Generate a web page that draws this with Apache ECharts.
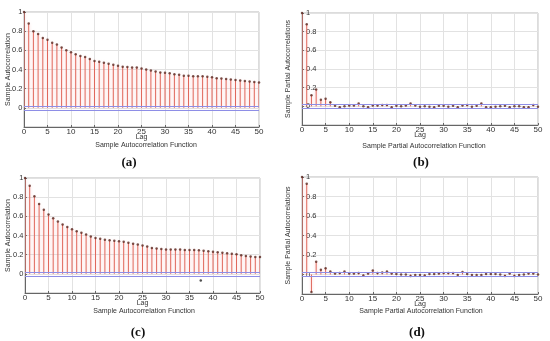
<!DOCTYPE html>
<html><head><meta charset="utf-8">
<script src="https://cdn.jsdelivr.net/npm/echarts@6/dist/echarts.min.js"></script>
<style>html,body{margin:0;padding:0;background:#fff}#c{width:550px;height:341px}</style>
</head><body><div id="c"></div>
<script>
const lags = [0,1,2,3,4,5,6,7,8,9,10,11,12,13,14,15,16,17,18,19,20,21,22,23,24,25,26,27,28,29,30,31,32,33,34,35,36,37,38,39,40,41,42,43,44,45,46,47,48,49,50];
const acfA = [1,0.88,0.80,0.77,0.73,0.71,0.68,0.66,0.63,0.60,0.58,0.56,0.54,0.53,0.51,0.49,0.48,0.47,0.46,0.45,0.44,0.43,0.425,0.42,0.42,0.41,0.40,0.39,0.38,0.37,0.365,0.36,0.35,0.345,0.335,0.335,0.33,0.33,0.33,0.325,0.32,0.31,0.305,0.30,0.295,0.29,0.285,0.28,0.275,0.27,0.265];
const pacfB = [1,0.88,0.12,0.18,0.07,0.08,0.045,0.005,-0.01,0.0,0.01,0.01,0.03,0.0,-0.01,0.01,0.01,0.015,0.015,-0.01,0.005,0.0,0.01,0.03,0.01,-0.005,0.0,-0.005,-0.01,0.005,0.005,-0.005,0.005,-0.01,0.01,0.015,-0.005,0.005,0.03,-0.01,-0.01,-0.005,0.0,0.005,-0.01,0.0,0.0,-0.01,-0.01,0.015,-0.005];
const acfC = [1,0.92,0.81,0.73,0.67,0.62,0.58,0.545,0.515,0.49,0.465,0.445,0.43,0.41,0.39,0.375,0.365,0.355,0.35,0.345,0.34,0.335,0.325,0.315,0.305,0.295,0.285,0.27,0.265,0.26,0.255,0.255,0.255,0.255,0.25,0.25,0.25,0.245,0.24,0.235,0.23,0.225,0.22,0.215,0.21,0.205,0.195,0.185,0.18,0.175,0.175];
const strayC = [[37.4,-0.07]];
const pacfD = [1,0.93,-0.18,0.13,0.05,0.065,0.03,0.01,0.015,0.03,0.01,0.01,0.015,-0.01,0.01,0.04,0.015,0.02,0.03,0.01,0.005,0.0,0.0,-0.015,-0.005,-0.005,-0.01,0.005,0.005,0.01,0.015,0.015,0.015,-0.005,0.025,0.005,-0.005,-0.005,-0.005,0.005,0.005,0.005,0.0,-0.015,0.01,-0.015,-0.005,0.0,0.01,0.01,0.0];
const bounds = [0.02,-0.02];
const xTicks = ['0','5','10','15','20','25','30','35','40','45','50'];
const yTickLabels = ['','0','0.2','0.4','0.6','0.8','1'];

const yNames = ['Sample Autocorrelation','Sample Partial Autocorrelations','Sample Autocorrelation','Sample Partial Autocorrelations'];
const titles = ['Sample Autocorrelation Function','Sample Partial Autocorrelation Function','Sample Autocorrelation Function','Sample Partial Autocorrelation Function'];
const panelTags = ['(a)','(b)','(c)','(d)'];
const series = [acfA, pacfB, acfC, pacfD];

const grids = [
  {left:24, top:12, width:235, height:115},
  {left:302, top:13, width:236, height:112},
  {left:25, top:178, width:235, height:115},
  {left:302, top:177, width:236, height:117}
];
const titlePos = [[146,145],[424,146],[144,311],[421,311]];
const tagPos = [[129,163],[421,163],[138,333],[417,333]];
const yNameGap = [12.5,10,13,10];
const yLabelInside = [false,true,false,true];

const font = 'Liberation Sans, Arial, sans-serif';
const chart = echarts.init(document.getElementById('c'), null, {renderer:'canvas'});

function stem(params, api){
  const x = api.value(0), y = api.value(1);
  const p0 = api.coord([x,0]), p1 = api.coord([x,y]);
  return {type:'line', shape:{x1:p0[0],y1:p0[1],x2:p1[0],y2:p1[1]},
    style:{stroke:'#e0685c', lineWidth:1, shadowColor:'rgba(250,160,160,0.6)', shadowBlur:3}};
}

const option = {
  animation:false,
  backgroundColor:'#fff',
  grid: grids.map(g => Object.assign({show:true, borderColor:'#b8b8b8', borderWidth:1, containLabel:false}, g)),
  xAxis: grids.map((g,i) => ({
    type:'value', gridIndex:i, min:0, max:50, interval:5,
    name:'Lag', nameLocation:'middle', nameGap:6.5, nameMoveOverlap:false,
    nameTextStyle:{fontSize:7, color:'#333', fontFamily:font},
    axisLine:{show:true, onZero:false, lineStyle:{color:'#666', width:1}},
    axisTick:{show:true, inside:true, length:2, lineStyle:{color:'#666'}},
    axisLabel:{fontSize:8, color:'#333', fontFamily:font, margin:1,
      formatter:v => xTicks[xTicks.indexOf(String(v))] || String(v)},
    splitLine:{show:true, lineStyle:{color:'#e2e2e2', width:1}}
  })),
  yAxis: grids.map((g,i) => ({
    type:'value', gridIndex:i, min:-0.2, max:1, interval:0.2,
    name:yNames[i], nameLocation:'middle', nameGap:yNameGap[i], nameMoveOverlap:false,
    nameTextStyle:{fontSize:7, color:'#333', fontFamily:font},
    axisLine:{show:true, onZero:false, lineStyle:{color:'#666', width:1}},
    axisTick:{show:true, inside:true, length:2, lineStyle:{color:'#666'}},
    axisLabel:{fontSize:7.5, color:'#333', fontFamily:font, margin: yLabelInside[i] ? 4 : 1.5, inside:yLabelInside[i],
      formatter:v => yTickLabels[Math.round((v+0.2)/0.2)]},
    splitLine:{show:true, lineStyle:{color:'#e2e2e2', width:1}}
  })),
  graphic: [],
  series: []
};

series.forEach((vals,i) => {
  const data = lags.map((l,k) => [l, vals[k]]);
  option.series.push({type:'custom', xAxisIndex:i, yAxisIndex:i, renderItem:stem, data:data, clip:true, z:3});
  option.series.push({type:'scatter', xAxisIndex:i, yAxisIndex:i, data:data, symbol:'circle', symbolSize:2.5,
    itemStyle:{color:'#5a2820'}, z:4,
    markLine:{silent:true, symbol:'none', label:{show:false}, lineStyle:{color:'#8e8ee6', width:1, type:'solid'},
      data: bounds.map(b => ({yAxis:b}))}});
  option.graphic.push({type:'text', x:titlePos[i][0], y:titlePos[i][1],
    style:{text:titles[i], font:'7px '+font, fill:'#333', textAlign:'center', textVerticalAlign:'middle'}});
  option.graphic.push({type:'text', x:tagPos[i][0], y:tagPos[i][1],
    style:{text:panelTags[i], font:'bold 13px Liberation Serif, Times New Roman, serif', fill:'#111', textAlign:'center', textVerticalAlign:'middle'}});
});
option.series.push({type:'scatter', xAxisIndex:2, yAxisIndex:2, data:strayC, symbolSize:2.5, itemStyle:{color:'#222'}, z:4});

chart.setOption(option);
</script></body></html>
